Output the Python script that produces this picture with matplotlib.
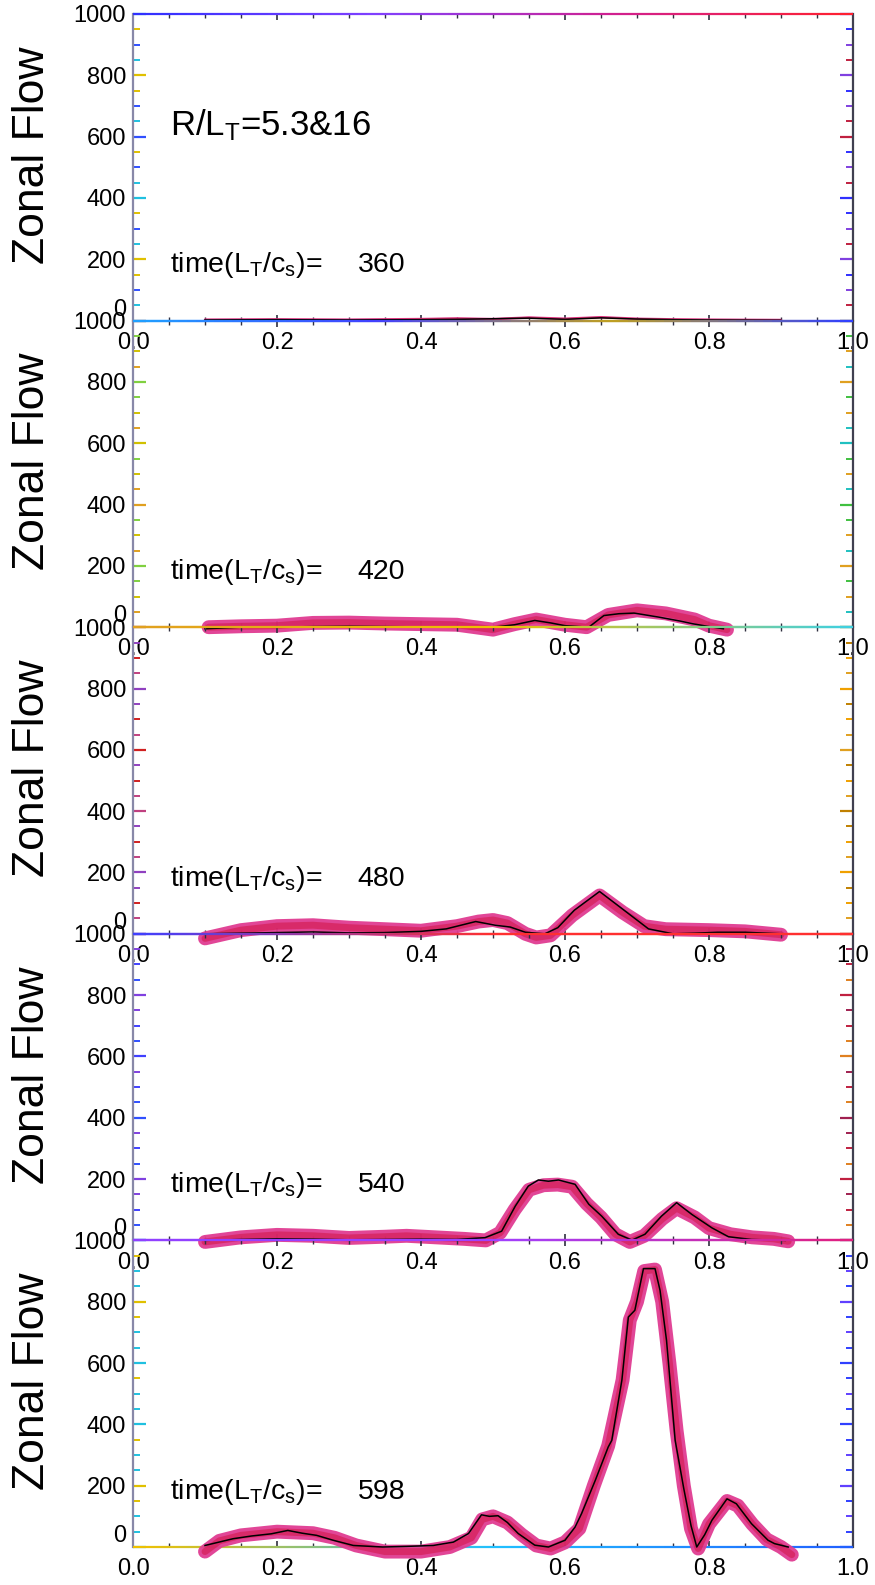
import numpy as np
import matplotlib
matplotlib.use("Agg")
import matplotlib.pyplot as plt
from matplotlib.collections import LineCollection
from matplotlib.colors import LinearSegmentedColormap
from matplotlib.ticker import MultipleLocator

plt.rcParams['font.family'] = ['Liberation Sans', 'DejaVu Sans']
plt.rcParams['mathtext.fontset'] = 'custom'
plt.rcParams['mathtext.rm'] = 'Liberation Sans'
plt.rcParams['mathtext.it'] = 'Liberation Sans'

# ---------------- data ----------------
times = ['360', '420', '480', '540', '598']
xticks = [0.0, 0.2, 0.4, 0.6, 0.8, 1.0]
yticks = [0, 200, 400, 600, 800, 1000]

# panel 1 (t=360)
line_x1 = [0.10, 0.20, 0.30, 0.40, 0.45, 0.50, 0.55, 0.60, 0.65, 0.70, 0.75, 0.80, 0.90]
line_y1 = [2, 3, 2, 3, 4, 6, 8, 4, 9, 5, 3, 2, 1]
band_x1 = [0.10, 0.20, 0.30, 0.40, 0.45, 0.50, 0.55, 0.60, 0.65, 0.70, 0.75, 0.80, 0.90]
band_y1 = [3, 4, 3, 5, 7, 5, 10, 6, 11, 6, 4, 3, 2]

# panel 2 (t=420)
line_x2 = [0.10, 0.15, 0.20, 0.25, 0.30, 0.35, 0.40, 0.45, 0.50, 0.53, 0.558, 0.58,
           0.60, 0.633, 0.654, 0.675, 0.696, 0.73, 0.76, 0.778, 0.80, 0.82]
line_y2 = [-5, 0, 0, 2, 3, 2, 1, 0, 0, 8, 22, 14, 5, 0, 38, 44, 46, 33, 20, 11, 2, -5]
band_x2 = [0.105, 0.15, 0.20, 0.25, 0.30, 0.35, 0.40, 0.45, 0.50, 0.53, 0.56, 0.60,
           0.63, 0.66, 0.70, 0.74, 0.78, 0.80, 0.825]
band_y2 = [0, 3, 5, 14, 15, 12, 10, 8, -8, 10, 25, 8, 0, 40, 55, 45, 25, 5, -8]

# panel 3 (t=480)
line_x3 = [0.10, 0.15, 0.20, 0.25, 0.30, 0.35, 0.40, 0.435, 0.476, 0.503, 0.524, 0.545,
           0.572, 0.59, 0.613, 0.648, 0.682, 0.716, 0.75, 0.78, 0.812, 0.85, 0.87, 0.90]
line_y3 = [0, 2, 4, 6, 3, 4, 8, 16, 40, 28, 22, 5, 0, 20, 77, 138, 77, 16, 0, 2, 5, 5, 3, 0]
band_x3 = [0.10, 0.15, 0.20, 0.25, 0.30, 0.35, 0.40, 0.45, 0.48, 0.50, 0.52, 0.545,
           0.56, 0.58, 0.61, 0.648, 0.68, 0.71, 0.74, 0.80, 0.85, 0.90]
band_y3 = [-15, 12, 25, 28, 20, 15, 10, 25, 40, 45, 35, 0, -12, -5, 60, 125, 70, 25,
           15, 12, 8, -3]

# panel 4 (t=540)
line_x4 = [0.10, 0.15, 0.20, 0.25, 0.30, 0.35, 0.40, 0.45, 0.489, 0.512, 0.531, 0.549,
           0.563, 0.577, 0.591, 0.614, 0.633, 0.651, 0.674, 0.693, 0.711, 0.734, 0.755,
           0.776, 0.804, 0.827, 0.859, 0.906]
line_y4 = [0, 3, 5, 4, 2, 3, 4, 3, 9, 30, 112, 177, 197, 193, 197, 183, 118, 79, 20, 1,
           20, 79, 123, 85, 41, 12, 3, 0]
band_x4 = [0.10, 0.15, 0.20, 0.25, 0.30, 0.35, 0.38, 0.42, 0.46, 0.49, 0.51, 0.53,
           0.55, 0.57, 0.59, 0.61, 0.63, 0.65, 0.67, 0.69, 0.71, 0.735, 0.755, 0.78,
           0.80, 0.83, 0.86, 0.89, 0.91]
band_y4 = [-5, 10, 18, 15, 8, 12, 15, 10, 5, 0, 25, 100, 165, 180, 182, 175, 120, 75,
           20, -5, 15, 70, 105, 75, 40, 20, 10, 5, -3]

# panel 5 (t=598)
line_x5 = [0.10, 0.139, 0.165, 0.192, 0.215, 0.235, 0.255, 0.278, 0.306, 0.347, 0.38,
           0.417, 0.445, 0.466, 0.484, 0.495, 0.507, 0.52, 0.535, 0.558, 0.577, 0.600,
           0.614, 0.623, 0.642, 0.660, 0.665, 0.679, 0.688, 0.697, 0.709, 0.725, 0.732,
           0.741, 0.753, 0.765, 0.775, 0.783, 0.794, 0.804, 0.825, 0.838, 0.859, 0.882,
           0.891, 0.91]
line_y5 = [5, 27, 36, 43, 54, 45, 38, 22, 5, 0, 2, 5, 16, 44, 105, 100, 102, 80, 44, 6,
           0, 22, 65, 109, 217, 326, 348, 544, 750, 772, 908, 908, 837, 674, 348, 190,
           70, 0, 40, 87, 157, 141, 76, 22, 11, 0]
band_x5 = [0.10, 0.12, 0.15, 0.20, 0.25, 0.28, 0.31, 0.35, 0.40, 0.44, 0.47, 0.485,
           0.50, 0.52, 0.54, 0.56, 0.58, 0.60, 0.62, 0.64, 0.66, 0.68, 0.69, 0.70,
           0.71, 0.725, 0.735, 0.745, 0.755, 0.765, 0.775, 0.785, 0.80, 0.825, 0.84,
           0.86, 0.88, 0.90, 0.915]
band_y5 = [-15, 20, 38, 50, 45, 30, 5, -15, -15, 0, 30, 90, 100, 80, 40, 5, -5, 15, 60,
           200, 330, 545, 740, 800, 900, 905, 800, 600, 380, 200, 60, -5, 75, 150, 135,
           75, 25, 0, -25]

lines_x = [line_x1, line_x2, line_x3, line_x4, line_x5]
lines_y = [line_y1, line_y2, line_y3, line_y4, line_y5]
bands_x = [band_x1, band_x2, band_x3, band_x4, band_x5]
bands_y = [band_y1, band_y2, band_y3, band_y4, band_y5]

# ---------------- style ----------------
W, H = 875, 1585
fig = plt.figure(figsize=(W / 100, H / 100), dpi=100)
fig.patch.set_facecolor('white')

left_px, right_px = 133, 853
top_px, panel_h = 14, 306.6

hline_colors = [
    ['#3030ff', '#8040ff', '#d02090', '#ff2030'],
    ['#20a0ff', '#4040ff', '#c0a020', '#3040ff'],
    ['#e0a020', '#f0c000', '#40d0e0'],
    ['#4040ff', '#ff3030', '#ff3030'],
    ['#9040ff', '#a040ff', '#e02080'],
    ['#f0c000', '#20c0ff', '#2060ff'],
]
left_tick_cols = [['#3050ff', '#e0c000', '#20c0e0'],
                  ['#d0c000', '#80d040', '#e0a020'],
                  ['#d02020', '#9040c0', '#c04080'],
                  ['#4040ff', '#8040e0', '#3050ff'],
                  ['#20c0e0', '#e0c000', '#20c0e0']]
right_tick_cols = [['#c02040', '#8040e0', '#3030ff'],
                   ['#20c0c0', '#e0a020', '#40c040'],
                   ['#e0a020', '#f0a000', '#c08000'],
                   ['#e08020', '#c02040', '#a02050'],
                   ['#3040ff', '#6040ff', '#3040ff']]


def gradient_hline(ax, y, colors):
    n = 80
    xs = np.linspace(0, 1, n + 1)
    segs = [[(xs[i], y), (xs[i + 1], y)] for i in range(n)]
    cm = LinearSegmentedColormap.from_list('g', colors, N=256)
    cols = [cm(i / (n - 1)) for i in range(n)]
    lc = LineCollection(segs, colors=cols, linewidths=1.6, transform=ax.transAxes,
                        clip_on=False, zorder=3)
    ax.add_collection(lc, autolim=False)


axes = []
for k in range(5):
    b = 1 - (top_px + panel_h * (k + 1)) / H
    ax = fig.add_axes([left_px / W, b, (right_px - left_px) / W, panel_h / H])
    ax.set_facecolor('none')
    ax.set_xlim(0, 1)
    ax.set_ylim(0, 1000)

    ax.spines['top'].set_visible(False)
    ax.spines['bottom'].set_visible(False)
    ax.spines['left'].set_color('#8888a8')
    ax.spines['left'].set_linewidth(1.6)
    ax.spines['right'].set_color('#404050')
    ax.spines['right'].set_linewidth(1.6)
    gradient_hline(ax, 1.0, hline_colors[k])
    gradient_hline(ax, 0.0, hline_colors[k + 1])

    ax.plot(bands_x[k], bands_y[k], color='#e03c92', lw=10 if k > 0 else 1.8,
            solid_capstyle='round', solid_joinstyle='round', clip_on=False, zorder=4,
            alpha=0.95)
    ax.plot(bands_x[k], bands_y[k], color='#d0103c', lw=5 if k > 0 else 1.2,
            solid_capstyle='round', solid_joinstyle='round', clip_on=False, zorder=4,
            alpha=0.5)
    ax.plot(lines_x[k], lines_y[k], color='black', lw=1.1, clip_on=False, zorder=5)

    ax.set_xticks(xticks)
    ax.set_xticklabels([f'{v:.1f}' for v in xticks])
    ax.set_yticks(yticks)
    ax.set_yticklabels([str(v) for v in yticks])
    ax.xaxis.set_minor_locator(MultipleLocator(0.05))
    ax.yaxis.set_minor_locator(MultipleLocator(50))
    ax.tick_params(axis='x', which='both', direction='in', top=True, bottom=True,
                   color='#303040', labelsize=17, pad=8)
    ax.tick_params(axis='x', which='major', length=4.5, width=1.2)
    ax.tick_params(axis='x', which='minor', length=3, width=1.0)
    ax.tick_params(axis='y', which='both', direction='in', left=True, right=True,
                   labelsize=17, pad=5)
    ax.tick_params(axis='y', which='major', length=9.5, width=1.6)
    ax.tick_params(axis='y', which='minor', length=5, width=1.4)

    ax.set_ylabel('Zonal Flow', fontsize=32, va='center')
    ax.yaxis.set_label_coords(-0.139, 0.54)

    ax.text(0.051, 180, r'time(L$_\mathrm{T}$/c$_\mathrm{s}$)=', fontsize=20.5,
            ha='left', va='center', zorder=6)
    ax.text(0.312, 180, times[k], fontsize=20.5, ha='left', va='center', zorder=6)
    axes.append(ax)

axes[0].text(0.051, 639, r'R/L$_\mathrm{T}$=5.3&16', fontsize=25, ha='left',
             va='center', zorder=6)

# draw once so that all tick objects exist, then colour them
fig.canvas.draw()
for k, ax in enumerate(axes):
    lc_ = left_tick_cols[k]
    rc_ = right_tick_cols[k]
    for i, t in enumerate(ax.yaxis.get_major_ticks()):
        t.tick1line.set_markeredgecolor(lc_[i % 3])
        t.tick2line.set_markeredgecolor(rc_[i % 3])
        if i == 0:
            t.label1.set_verticalalignment('bottom')
    for i, t in enumerate(ax.yaxis.minorTicks):
        t.tick1line.set_markeredgecolor(lc_[(i + 1) % 3])
        t.tick2line.set_markeredgecolor(rc_[(i + 2) % 3])

fig.savefig('out.png', dpi=100)
